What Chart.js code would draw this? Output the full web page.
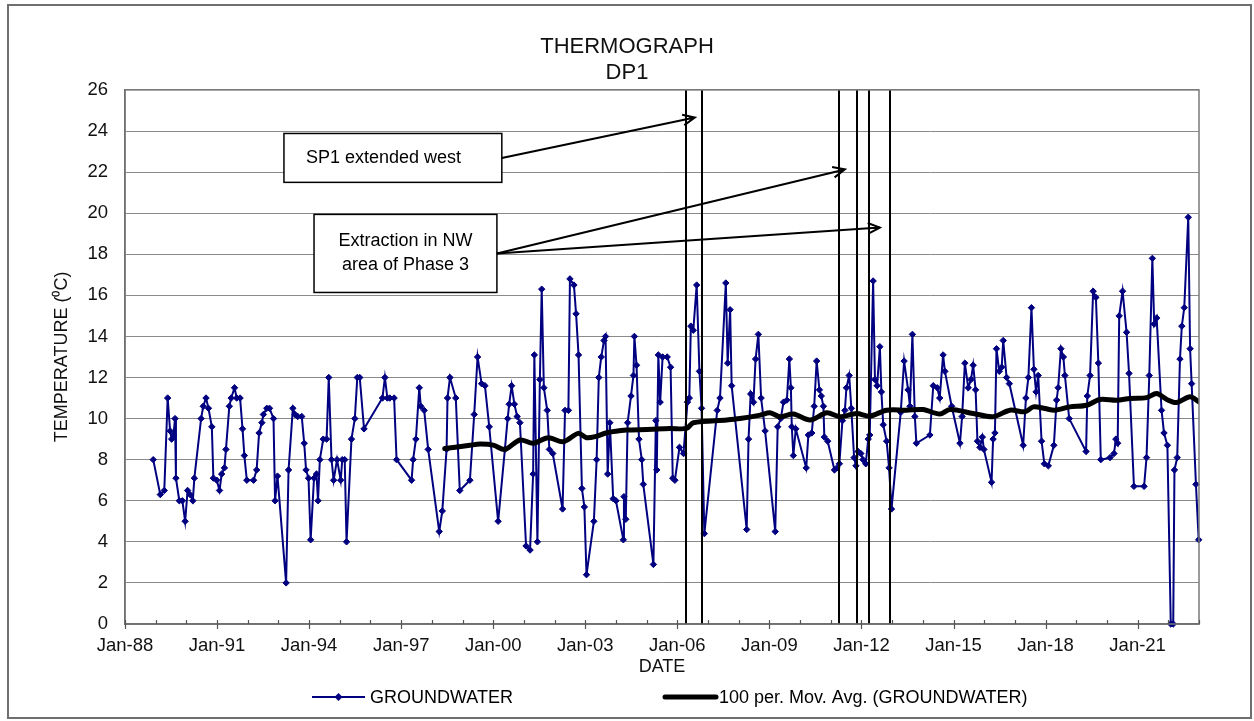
<!DOCTYPE html>
<html>
<head>
<meta charset="utf-8">
<title>Thermograph DP1</title>
<script src="https://cdn.jsdelivr.net/npm/chart.js@4/dist/chart.umd.min.js"></script>
<style>
  html, body { margin: 0; padding: 0; background: #fff; }
  #wrap { width: 1254px; height: 721px; position: relative; }
</style>
</head>
<body>
<div id="wrap"><canvas id="thermo" width="1254" height="721"></canvas></div>
<script>
// Sample dates (decimal years) and groundwater temperatures (deg C)
const sampleYears = [
  1988.92, 1989.15, 1989.28, 1989.39, 1989.47, 1989.52, 1989.58, 1989.63, 1989.66, 1989.77,
  1989.87, 1989.96, 1990.04, 1990.12, 1990.21, 1990.26, 1990.48, 1990.55, 1990.64, 1990.72,
  1990.83, 1990.88, 1990.99, 1991.08, 1991.15, 1991.24, 1991.29, 1991.40, 1991.46, 1991.57,
  1991.64, 1991.75, 1991.83, 1991.89, 1991.97, 1992.19, 1992.29, 1992.37, 1992.46, 1992.51,
  1992.62, 1992.71, 1992.84, 1992.89, 1992.97, 1993.25, 1993.33, 1993.47, 1993.54, 1993.63,
  1993.76, 1993.84, 1993.90, 1993.98, 1994.05, 1994.16, 1994.24, 1994.29, 1994.35, 1994.46,
  1994.57, 1994.64, 1994.73, 1994.80, 1994.91, 1995.03, 1995.08, 1995.16, 1995.22, 1995.38,
  1995.49, 1995.57, 1995.65, 1995.79, 1996.39, 1996.47, 1996.55, 1996.63, 1996.77, 1996.85,
  1997.34, 1997.39, 1997.48, 1997.59, 1997.64, 1997.75, 1997.88, 1998.24, 1998.34, 1998.48,
  1998.51, 1998.59, 1998.78, 1998.91, 1999.24, 1999.38, 1999.49, 1999.62, 1999.73, 1999.87,
  2000.16, 2000.38, 2000.47, 2000.52, 2000.60, 2000.69, 2000.78, 2000.87, 2001.07, 2001.20,
  2001.30, 2001.34, 2001.44, 2001.52, 2001.58, 2001.65, 2001.76, 2001.83, 2001.94, 2002.26,
  2002.34, 2002.45, 2002.50, 2002.63, 2002.70, 2002.78, 2002.89, 2002.97, 2003.04, 2003.28,
  2003.37, 2003.44, 2003.52, 2003.61, 2003.66, 2003.73, 2003.80, 2003.91, 2004.00, 2004.24,
  2004.26, 2004.32, 2004.38, 2004.49, 2004.57, 2004.60, 2004.67, 2004.75, 2004.84, 2004.89,
  2005.22, 2005.30, 2005.33, 2005.38, 2005.44, 2005.52, 2005.67, 2005.78, 2005.85, 2005.92,
  2006.07, 2006.20, 2006.33, 2006.39, 2006.44, 2006.52, 2006.63, 2006.72, 2006.79, 2006.88,
  2007.30, 2007.39, 2007.58, 2007.64, 2007.72, 2007.77, 2008.26, 2008.32, 2008.39, 2008.48,
  2008.55, 2008.64, 2008.73, 2008.86, 2009.19, 2009.27, 2009.37, 2009.46, 2009.57, 2009.65,
  2009.70, 2009.73, 2009.78, 2009.86, 2010.20, 2010.27, 2010.38, 2010.46, 2010.54, 2010.63,
  2010.69, 2010.76, 2010.79, 2010.90, 2011.12, 2011.20, 2011.28, 2011.38, 2011.46, 2011.51,
  2011.60, 2011.67, 2011.76, 2011.82, 2011.89, 2011.98, 2012.05, 2012.14, 2012.22, 2012.27,
  2012.38, 2012.44, 2012.51, 2012.60, 2012.65, 2012.71, 2012.82, 2012.90, 2012.98, 2013.28,
  2013.39, 2013.52, 2013.58, 2013.66, 2013.74, 2013.79, 2014.23, 2014.34, 2014.47, 2014.55,
  2014.66, 2014.72, 2014.94, 2015.21, 2015.28, 2015.37, 2015.48, 2015.57, 2015.64, 2015.72,
  2015.78, 2015.86, 2015.94, 2015.99, 2016.24, 2016.29, 2016.35, 2016.40, 2016.49, 2016.57,
  2016.62, 2016.73, 2016.82, 2017.27, 2017.36, 2017.44, 2017.54, 2017.62, 2017.69, 2017.76,
  2017.87, 2017.96, 2018.09, 2018.27, 2018.36, 2018.41, 2018.50, 2018.58, 2018.63, 2018.77,
  2019.32, 2019.36, 2019.45, 2019.55, 2019.64, 2019.72, 2019.80, 2020.10, 2020.23, 2020.29,
  2020.35, 2020.40, 2020.51, 2020.64, 2020.72, 2020.88, 2021.21, 2021.29, 2021.38, 2021.48,
  2021.54, 2021.62, 2021.78, 2021.86, 2021.97, 2022.08, 2022.16, 2022.20, 2022.29, 2022.38,
  2022.44, 2022.52, 2022.65, 2022.71, 2022.76, 2022.90, 2022.99
];

const groundwaterTemps = [
  8.0, 6.3, 6.5, 11.0, 9.4, 9.0, 9.2, 10.0, 7.1, 6.0,
  6.0, 5.0, 6.5, 6.3, 6.0, 7.1, 10.0, 10.6, 11.0, 10.5,
  9.6, 7.1, 7.0, 6.5, 7.3, 7.6, 8.5, 10.6, 11.0, 11.5,
  11.0, 11.0, 9.5, 8.2, 7.0, 7.0, 7.5, 9.3, 9.8, 10.2,
  10.5, 10.5, 10.0, 6.0, 7.2, 2.0, 7.5, 10.5, 10.2, 10.1,
  10.1, 8.8, 7.5, 7.1, 4.1, 7.1, 7.3, 6.0, 8.0, 9.0,
  9.0, 12.0, 8.0, 7.0, 8.0, 7.0, 8.0, 8.0, 4.0, 9.0,
  10.0, 12.0, 12.0, 9.5, 11.0, 12.0, 11.0, 11.0, 11.0, 8.0,
  7.0, 8.0, 9.0, 11.5, 10.6, 10.4, 8.5, 4.5, 5.5, 8.5,
  11.0, 12.0, 11.0, 6.5, 7.0, 10.2, 13.0, 11.7, 11.6, 9.6,
  5.0, 8.5, 10.0, 10.7, 11.6, 10.7, 10.1, 9.8, 3.8, 3.6,
  7.3, 13.1, 4.0, 11.9, 16.3, 11.5, 10.4, 8.5, 8.3, 5.6,
  10.4, 10.4, 16.8, 16.5, 15.1, 13.1, 6.6, 5.7, 2.4, 5.0,
  8.0, 12.0, 13.0, 13.8, 14.0, 7.3, 9.8, 6.1, 6.0, 4.1,
  6.2, 5.1, 9.8, 11.1, 12.1, 14.0, 12.6, 9.0, 8.0, 6.8,
  2.9, 9.9, 7.5, 13.1, 10.8, 13.0, 13.0, 12.5, 7.1, 7.0,
  8.6, 8.3, 10.8, 11.0, 14.5, 14.3, 16.5, 12.3, 10.5, 4.4,
  10.4, 11.0, 16.6, 12.7, 15.3, 11.6, 4.6, 9.0, 11.2, 10.8,
  12.9, 14.1, 11.0, 9.4, 4.5, 9.6, 10.0, 10.8, 10.9, 12.9,
  11.5, 9.6, 8.2, 9.5, 7.6, 9.2, 9.3, 10.6, 12.8, 11.4,
  11.1, 10.6, 9.1, 8.9, 7.5, 7.6, 7.8, 9.9, 10.4, 11.5,
  12.1, 10.5, 8.1, 7.7, 8.4, 8.3, 8.0, 7.8, 9.0, 9.2,
  16.7, 11.9, 11.6, 13.5, 11.3, 9.7, 8.9, 7.6, 5.6, 10.3,
  12.8, 11.4, 10.6, 14.1, 10.1, 8.8, 9.2, 11.6, 11.5, 11.0,
  13.1, 12.3, 10.6, 8.8, 10.1, 12.7, 11.5, 11.9, 12.6, 11.4,
  8.9, 8.6, 9.1, 8.5, 6.9, 9.0, 9.3, 13.4, 12.3, 12.5,
  13.8, 12.0, 11.7, 8.7, 11.0, 12.0, 15.4, 12.4, 11.3, 12.1,
  8.9, 7.8, 7.7, 8.7, 10.9, 11.5, 13.4, 13.0, 12.1, 10.0,
  8.4, 11.1, 12.1, 16.2, 15.9, 12.7, 8.0, 8.1, 8.3, 9.0,
  8.8, 15.0, 16.2, 14.2, 12.2, 6.7, 6.7, 8.1, 12.1, 17.8,
  14.6, 14.9, 10.4, 9.3, 8.7, 0.0, 0.0, 7.5, 8.1, 12.9,
  14.5, 15.4, 19.8, 13.4, 11.7, 6.8, 4.1
];

// 100-period moving average trend line
const movAvgYears = [
  1998.42, 1999.24, 1999.57, 2000.00, 2000.38, 2000.87, 2001.30, 2001.79, 2002.28, 2002.77,
  2003.04, 2003.32, 2003.70, 2004.35, 2005.00, 2005.76, 2006.30, 2006.52, 2007.61, 2008.04,
  2008.70, 2009.02, 2009.35, 2009.78, 2010.33, 2010.87, 2011.30, 2011.84, 2012.27, 2012.82,
  2013.47, 2014.01, 2014.55, 2014.88, 2015.64, 2016.29, 2016.84, 2017.33, 2017.60, 2017.98,
  2018.30, 2018.79, 2019.34, 2019.77, 2020.32, 2020.75, 2021.29, 2021.62, 2021.95, 2022.27,
  2022.71, 2023.00
];
const movAvgTemps = [
  8.54, 8.70, 8.76, 8.71, 8.50, 8.96, 8.80, 9.07, 8.87, 9.28,
  9.07, 9.12, 9.31, 9.44, 9.47, 9.52, 9.52, 9.80, 9.93, 10.00,
  10.17, 10.28, 10.09, 10.22, 9.93, 10.28, 10.09, 10.25, 10.12, 10.41,
  10.41, 10.44, 10.22, 10.44, 10.25, 10.09, 10.41, 10.33, 10.57, 10.49,
  10.41, 10.57, 10.65, 10.93, 10.89, 10.98, 11.02, 11.22, 10.93, 10.78,
  11.06, 10.81
];

// Dates of site works (vertical markers)
const eventYears = [2006.28, 2006.81, 2011.26, 2011.86, 2012.25, 2012.93];

// Labelled x-axis ticks
const labelYears = [1988, 1991, 1994, 1997, 2000, 2003, 2006, 2009, 2012, 2015, 2018, 2021];
const labelNames = ['Jan-88', 'Jan-91', 'Jan-94', 'Jan-97', 'Jan-00', 'Jan-03', 'Jan-06',
                    'Jan-09', 'Jan-12', 'Jan-15', 'Jan-18', 'Jan-21'];

const seriesNames = ['GROUNDWATER', '100 per. Mov. Avg. (GROUNDWATER)'];

const FONT = '"Liberation Sans", Arial, Helvetica, sans-serif';
const NAVY = '#000080';

// Callout boxes and arrows, placed in data units (x: year, y: deg C)
const callouts = [
  { lines: ['SP1 extended west'], align: 'left',
    box: { x0: 1993.18, x1: 2000.28, y0: 23.88, y1: 21.50 },
    from: { x: 2000.28, y: 22.69 },
    to: [{ x: 2006.57, y: 24.66 }] },
  { lines: ['Extraction in NW', 'area of Phase 3'], align: 'center',
    box: { x0: 1994.16, x1: 2000.12, y0: 19.94, y1: 16.14 },
    from: { x: 2000.12, y: 18.04 },
    to: [{ x: 2011.46, y: 22.13 }, { x: 2012.60, y: 19.30 }] }
];

function arrow(ctx, x1, y1, x2, y2) {
  const ang = Math.atan2(y2 - y1, x2 - x1);
  const head = 13, spread = 0.42;
  ctx.beginPath();
  ctx.moveTo(x1, y1);
  ctx.lineTo(x2, y2);
  ctx.moveTo(x2 - head * Math.cos(ang - spread), y2 - head * Math.sin(ang - spread));
  ctx.lineTo(x2, y2);
  ctx.lineTo(x2 - head * Math.cos(ang + spread), y2 - head * Math.sin(ang + spread));
  ctx.stroke();
}

const decorations = {
  id: 'decorations',
  beforeDraw(chart) {
    const { ctx } = chart;
    ctx.save();
    ctx.fillStyle = '#fff';
    ctx.fillRect(0, 0, chart.width, chart.height);
    ctx.restore();
  },
  afterDatasetsDraw(chart) {
    const { ctx, chartArea: a, scales: { x } } = chart;
    ctx.save();
    ctx.strokeStyle = '#000';
    ctx.lineWidth = 2;
    eventYears.forEach(v => {
      const px = Math.round(x.getPixelForValue(v));
      ctx.beginPath();
      ctx.moveTo(px, a.top);
      ctx.lineTo(px, a.bottom);
      ctx.stroke();
    });
    ctx.restore();
  },
  afterDraw(chart) {
    const { ctx, chartArea: a, scales: { x, y } } = chart;
    ctx.save();

    // plot area border
    ctx.strokeStyle = '#7a7a7a';
    ctx.lineWidth = 1.5;
    ctx.strokeRect(a.left, a.top, a.right - a.left, a.bottom - a.top);

    // yearly tick marks on the date axis (long at labelled years)
    ctx.strokeStyle = '#555';
    ctx.lineWidth = 1.2;
    for (let yr = 1988; yr <= 2023; yr++) {
      const px = Math.round(x.getPixelForValue(yr)) + 0.5;
      const major = labelYears.includes(yr);
      ctx.beginPath();
      ctx.moveTo(px, a.bottom - 4);
      ctx.lineTo(px, a.bottom + (major ? 5 : 0));
      ctx.stroke();
    }

    // callouts
    ctx.font = '18px ' + FONT;
    ctx.textBaseline = 'middle';
    callouts.forEach(c => {
      const bx0 = x.getPixelForValue(c.box.x0), bx1 = x.getPixelForValue(c.box.x1);
      const by0 = y.getPixelForValue(c.box.y0), by1 = y.getPixelForValue(c.box.y1);
      ctx.fillStyle = '#fff';
      ctx.fillRect(bx0, by0, bx1 - bx0, by1 - by0);
      ctx.strokeStyle = '#000';
      ctx.lineWidth = 1.5;
      ctx.strokeRect(bx0, by0, bx1 - bx0, by1 - by0);
      ctx.fillStyle = '#000';
      const lh = 24;
      const cy = (by0 + by1) / 2;
      c.lines.forEach((t, i) => {
        const ty = cy + (i - (c.lines.length - 1) / 2) * lh;
        if (c.align === 'left') {
          ctx.textAlign = 'left';
          ctx.fillText(t, bx0 + 22, ty);
        } else {
          ctx.textAlign = 'center';
          ctx.fillText(t, (bx0 + bx1) / 2, ty);
        }
      });
      ctx.lineWidth = 2;
      const fx = x.getPixelForValue(c.from.x), fy = y.getPixelForValue(c.from.y);
      c.to.forEach(t => arrow(ctx, fx, fy, x.getPixelForValue(t.x), y.getPixelForValue(t.y)));
    });

    // legend
    const ds = chart.data.datasets;
    const ly = 697;
    ctx.textAlign = 'left';
    ctx.fillStyle = '#000';
    // groundwater sample
    ctx.strokeStyle = ds[0].borderColor;
    ctx.lineWidth = ds[0].borderWidth;
    ctx.beginPath(); ctx.moveTo(312, ly); ctx.lineTo(365, ly); ctx.stroke();
    ctx.fillStyle = ds[0].pointBackgroundColor;
    ctx.beginPath();
    ctx.moveTo(338.5, ly - 4); ctx.lineTo(342.5, ly); ctx.lineTo(338.5, ly + 4); ctx.lineTo(334.5, ly);
    ctx.closePath(); ctx.fill();
    ctx.fillStyle = '#000';
    ctx.fillText(ds[0].label, 370, ly + 1);
    // moving average sample
    ctx.strokeStyle = ds[1].borderColor;
    ctx.lineWidth = ds[1].borderWidth;
    ctx.lineCap = 'round';
    ctx.beginPath(); ctx.moveTo(665, ly); ctx.lineTo(716, ly); ctx.stroke();
    ctx.fillText(ds[1].label, 719, ly + 1);

    // outer frame
    ctx.lineCap = 'butt';
    ctx.strokeStyle = '#6f6f6f';
    ctx.lineWidth = 2;
    ctx.strokeRect(8, 5, 1243, 713);
    ctx.restore();
  }
};

new Chart(document.getElementById('thermo'), {
  type: 'line',
  data: {
    datasets: [
      {
        label: seriesNames[0],
        data: sampleYears.map((yr, i) => ({ x: yr, y: groundwaterTemps[i] })),
        borderColor: NAVY,
        backgroundColor: NAVY,
        pointBackgroundColor: NAVY,
        pointBorderColor: NAVY,
        borderWidth: 2,
        pointStyle: 'rectRot',
        pointRadius: 3.2,
        pointBorderWidth: 1,
        tension: 0,
        clip: false,
        order: 2
      },
      {
        label: seriesNames[1],
        data: movAvgYears.map((yr, i) => ({ x: yr, y: movAvgTemps[i] })),
        borderColor: '#000',
        backgroundColor: '#000',
        borderWidth: 5,
        pointRadius: 0,
        borderJoinStyle: 'round',
        borderCapStyle: 'round',
        tension: 0.3,
        order: 1
      }
    ]
  },
  options: {
    responsive: false,
    animation: false,
    events: [],
    layout: { padding: 0 },
    plugins: {
      legend: { display: false },
      tooltip: { enabled: false },
      title: {
        display: true,
        text: ['THERMOGRAPH', 'DP1'],
        color: '#111',
        font: { family: FONT, size: 22, weight: 'normal', lineHeight: 1.18 },
        padding: { top: 34, bottom: 4 }
      }
    },
    scales: {
      x: {
        type: 'linear',
        min: 1988,
        max: 2023,
        afterFit(scale) { scale.height = 97; },
        grid: { drawOnChartArea: false, drawTicks: false },
        border: { display: true, color: '#555', width: 1.5 },
        ticks: {
          stepSize: 1,
          autoSkip: false,
          maxRotation: 0,
          padding: 11,
          color: '#111',
          font: { family: FONT, size: 18.5 },
          callback(v) {
            const i = labelYears.indexOf(v);
            return i >= 0 ? labelNames[i] : '';
          }
        },
        title: {
          display: true,
          text: 'DATE',
          color: '#111',
          font: { family: FONT, size: 18 },
          padding: { top: 0, bottom: 43 }
        }
      },
      y: {
        min: 0,
        max: 26,
        afterFit(scale) { scale.width = 125; },
        grid: { color: '#8a8a8a', lineWidth: 1, drawTicks: false },
        border: { display: true, color: '#555', width: 1.5 },
        ticks: {
          stepSize: 2,
          padding: 17,
          color: '#111',
          font: { family: FONT, size: 18.5 }
        },
        title: {
          display: true,
          text: 'TEMPERATURE (\u2070C)',
          color: '#111',
          font: { family: FONT, size: 18 },
          padding: { top: 51, bottom: 0 }
        }
      },
      // empty margin on the right of the plot area
      gap: {
        type: 'linear',
        position: 'right',
        display: true,
        afterFit(scale) { scale.width = 55; },
        grid: { display: false, drawTicks: false },
        border: { display: false },
        ticks: { display: false }
      }
    }
  },
  plugins: [decorations]
});
</script>
</body>
</html>
